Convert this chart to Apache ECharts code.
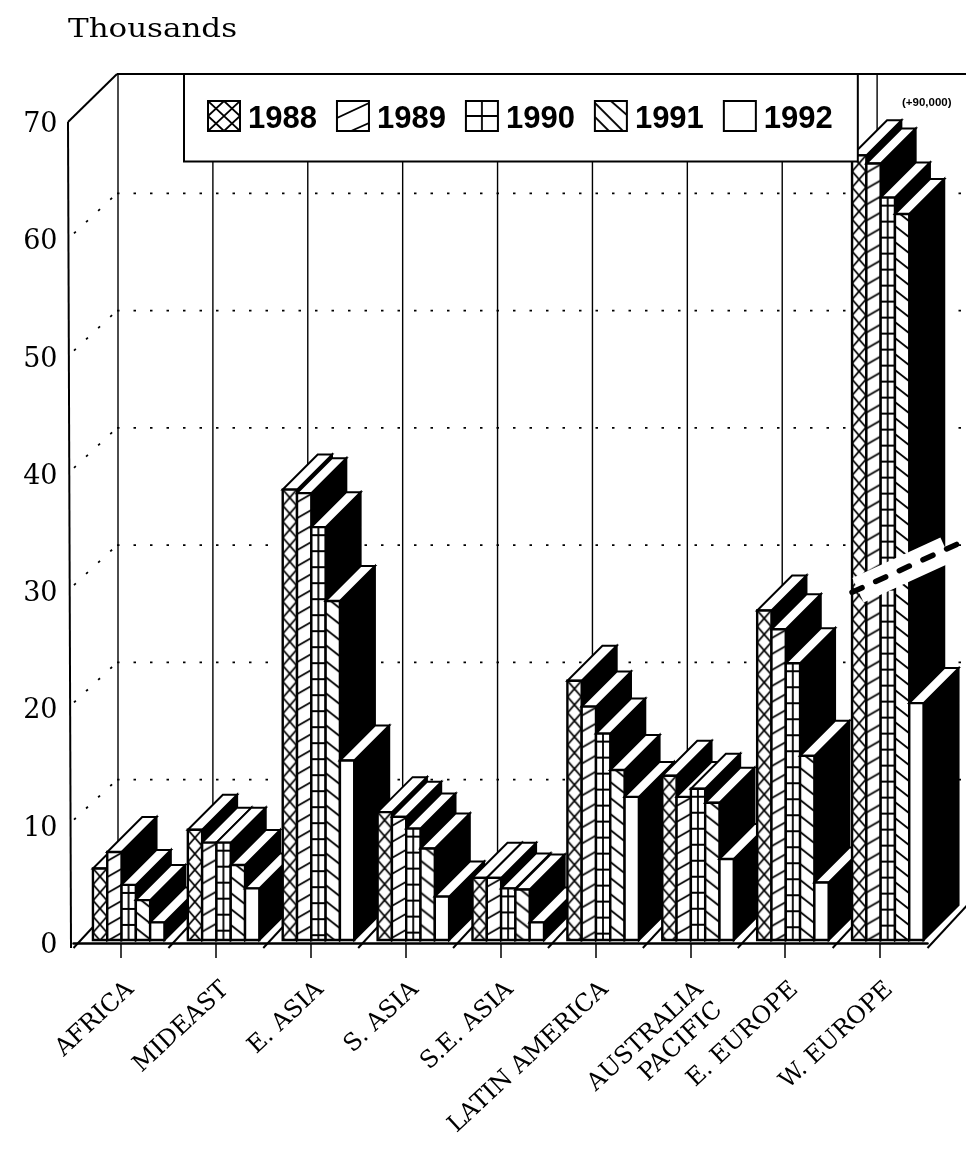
<!DOCTYPE html>
<html>
<head>
<meta charset="utf-8">
<style>
  html, body { margin: 0; padding: 0; background: #fff; }
  #chart { width: 966px; height: 1150px; }
</style>
<script src="https://cdn.jsdelivr.net/npm/echarts@6/dist/echarts.min.js"></script>
</head>
<body>
<div id="chart"></div>
<script>
const categories = ['AFRICA', 'MIDEAST', 'E. ASIA', 'S. ASIA', 'S.E. ASIA', 'LATIN AMERICA', 'AUSTRALIA\nPACIFIC', 'E. EUROPE', 'W. EUROPE'];
const years = ['1988', '1989', '1990', '1991', '1992'];
const values1988 = [6.1, 9.4, 38.4, 10.9, 5.3, 22.1, 14.0, 28.1, 66.9];
const values1989 = [7.5, 8.3, 38.1, 10.5, 5.3, 19.9, 12.2, 26.5, 66.2];
const values1990 = [4.7, 8.3, 35.2, 9.5, 4.4, 17.6, 12.9, 23.6, 63.3];
const values1991 = [3.4, 6.4, 28.9, 7.8, 4.3, 14.5, 11.7, 15.7, 61.9];
const values1992 = [1.5, 4.4, 15.3, 3.7, 1.5, 12.2, 6.9, 4.9, 20.2];
const yearValues = [values1988, values1989, values1990, values1991, values1992];
const yTicks = [10, 20, 30, 40, 50, 60];

const BAR_W = 14.3;
const GROUP_OFFSET = -28;
const BAR_BASE_LIFT = 3;
const BAR_DX = 35;
const BAR_DY = -35;
const WALL_DX = 49;
const WALL_DY = -48;
const DOT_DY = -46;
const FRONT_LEFT = 68;
const FLOOR_DROP = 5;

// 柱子正面的填充纹理
function makeTile(w, h, draw) {
  const c = document.createElement('canvas');
  c.width = w;
  c.height = h;
  const ctx = c.getContext('2d');
  ctx.fillStyle = '#fff';
  ctx.fillRect(0, 0, w, h);
  ctx.strokeStyle = '#000';
  ctx.lineWidth = 1.8;
  draw(ctx);
  return c;
}

function drawLines(ctx, lines) {
  ctx.beginPath();
  lines.forEach(l => {
    ctx.moveTo(l[0], l[1]);
    ctx.lineTo(l[2], l[3]);
  });
  ctx.stroke();
}

const barTiles = [
  makeTile(14, 16, ctx => drawLines(ctx, [[0, 0, 14, 16], [14, 0, 0, 16]])),
  makeTile(14, 16, ctx => drawLines(ctx, [[0, 9, 14, 1], [0, 25, 14, 17], [0, -7, 14, -15]])),
  makeTile(14, 16, ctx => drawLines(ctx, [[0, 8, 14, 8], [7, 0, 7, 16]])),
  makeTile(14, 16, ctx => drawLines(ctx, [[0, -4, 14, 7], [0, 12, 14, 23], [0, -20, 14, -9]])),
  makeTile(14, 16, () => {})
];

const legendTiles = [
  makeTile(32, 30, ctx => drawLines(ctx, [[0, 0, 32, 30], [32, 0, 0, 30], [16, 0, 32, 15], [32, 15, 16, 30], [16, 30, 0, 15], [0, 15, 16, 0]])),
  makeTile(32, 30, ctx => drawLines(ctx, [[0, 17, 32, 2], [14, 30, 32, 22]])),
  makeTile(32, 30, ctx => drawLines(ctx, [[0, 15, 32, 15], [16, 0, 16, 30]])),
  makeTile(32, 30, ctx => drawLines(ctx, [[0, 2, 28, 30], [16, 0, 32, 14], [0, 16, 14, 30]])),
  makeTile(32, 30, () => {})
];

function renderBar(yearIdx) {
  return function (params, api) {
    const cat = api.value(0);
    const base = api.coord([cat, 0]);
    const top = api.coord([cat, api.value(1)]);
    const x0 = base[0] + GROUP_OFFSET + yearIdx * BAR_W;
    const x1 = x0 + BAR_W;
    const y0 = base[1] - BAR_BASE_LIFT;
    const y1 = top[1] - BAR_BASE_LIFT;
    const z = (cat * 5 + yearIdx) * 3;
    return {
      type: 'group',
      children: [
        {
          type: 'polygon',
          z2: z,
          shape: { points: [[x1, y1], [x1 + BAR_DX, y1 + BAR_DY], [x1 + BAR_DX, y0 + BAR_DY], [x1, y0]] },
          style: { fill: '#000', stroke: '#000', lineWidth: 2 }
        },
        {
          type: 'polygon',
          z2: z + 1,
          shape: { points: [[x0, y1], [x1, y1], [x1 + BAR_DX, y1 + BAR_DY], [x0 + BAR_DX, y1 + BAR_DY]] },
          style: { fill: '#fff', stroke: '#000', lineWidth: 2 }
        },
        {
          type: 'rect',
          z2: z + 2,
          shape: { x: x0, y: y1, width: BAR_W, height: y0 - y1 },
          style: {
            fill: { image: barTiles[yearIdx], repeat: 'repeat', x: x0, y: y1 },
            stroke: '#000',
            lineWidth: 2.4
          }
        }
      ]
    };
  };
}

function line(x1, y1, x2, y2, style) {
  return { type: 'line', shape: { x1, y1, x2, y2 }, style: Object.assign({ stroke: '#000', fill: null }, style) };
}

// 背景：左墙、后墙、虚线网格、地板
function renderFrame(params, api) {
  const sys = params.coordSys;
  const band = sys.width / categories.length;
  const y0 = api.coord([0, 0])[1];
  const y70 = api.coord([0, 70])[1];
  const right = 966;
  const backX = FRONT_LEFT + WALL_DX;
  const topY = y70 + WALL_DY;
  const floorY = y0 + FLOOR_DROP;
  const children = [];
  const dotted = { lineWidth: 1.8, lineDash: [2.5, 14] };

  children.push(line(FRONT_LEFT, y70, FRONT_LEFT + 3, floorY, { lineWidth: 2 }));
  children.push(line(FRONT_LEFT, y70, backX, topY, { lineWidth: 2 }));
  children.push(line(backX, topY, right, topY, { lineWidth: 2 }));

  yTicks.forEach(v => {
    const y = api.coord([0, v])[1];
    children.push(line(FRONT_LEFT + 6, y - 6, backX, y + DOT_DY, dotted));
    children.push(line(backX, y + DOT_DY, right, y + DOT_DY, dotted));
  });

  for (let i = 0; i <= categories.length; i++) {
    const fx = sys.x + band * i;
    const bx = fx + 44.5;
    children.push(line(bx, topY, bx, floorY + WALL_DY, { lineWidth: 1.4 }));
    children.push(line(fx, floorY, fx + 44.5, floorY + WALL_DY, { lineWidth: 2 }));
  }
  return { type: 'group', children };
}

// 西欧柱子上的断轴标记
function renderBreak(params, api) {
  const cat = categories.length - 1;
  const cx = api.coord([cat, 0])[0];
  const left = [cx - 28, api.coord([cat, 29.9])[1]];
  const right = [cx + 82, api.coord([cat, 34.2])[1]];
  const children = [
    line(left[0] + 6, left[1] - 2, right[0] - 16, right[1] + 8, { stroke: '#fff', lineWidth: 27 }),
    line(left[0], left[1], right[0], right[1], { lineWidth: 5.5, lineDash: [11, 15], lineCap: 'round' })
  ];
  children.forEach(c => { c.z2 = 1000; });
  return { type: 'group', children };
}

const barSeries = yearValues.map((vals, yearIdx) => ({
  name: years[yearIdx],
  type: 'custom',
  z: 2,
  renderItem: renderBar(yearIdx),
  encode: { x: 0, y: 1 },
  data: vals.map((v, i) => [i, v]),
  animation: false
}));

const chart = echarts.init(document.getElementById('chart'), null, { renderer: 'canvas' });

chart.setOption({
  animation: false,
  backgroundColor: '#fff',
  grid: { left: 73.5, width: 854, top: 122, bottom: 207, containLabel: false },
  legend: {
    left: 184,
    top: 74,
    selectedMode: false,
    orient: 'horizontal',
    backgroundColor: '#fff',
    borderColor: '#000',
    borderWidth: 2,
    padding: [26, 25, 27, 23],
    itemWidth: 32,
    itemHeight: 30,
    itemGap: 19,
    icon: 'rect',
    formatter: '{t|{name}}',
    textStyle: {
      fontFamily: '"Liberation Sans", Arial, sans-serif',
      fontWeight: 'bold',
      fontSize: 31,
      color: '#000',
      rich: {
        t: {
          fontFamily: '"Liberation Sans", Arial, sans-serif',
          fontWeight: 'bold',
          fontSize: 31,
          color: '#000',
          padding: [6, 0, 0, 3]
        }
      }
    },
    data: years.map((y, i) => ({
      name: y,
      icon: 'rect',
      itemStyle: {
        color: { image: legendTiles[i], repeat: 'no-repeat' },
        borderColor: '#000',
        borderWidth: 2
      }
    }))
  },
  xAxis: {
    type: 'category',
    data: categories,
    offset: FLOOR_DROP,
    axisLine: { show: true, lineStyle: { color: '#000', width: 2.5 } },
    axisTick: { show: true, alignWithLabel: true, length: 15, lineStyle: { color: '#000', width: 1.5 } },
    axisLabel: {
      interval: 0,
      rotate: 43,
      margin: 28,
      hideOverlap: false,
      color: '#000',
      fontFamily: '"DejaVu Serif", serif',
      fontSize: 24,
      lineHeight: 28,
      verticalAlign: 'top'
    },
    splitLine: { show: false }
  },
  yAxis: {
    type: 'value',
    min: 0,
    max: 70,
    interval: 10,
    axisLine: { show: false },
    axisTick: { show: false },
    splitLine: { show: false },
    axisLabel: {
      margin: 16,
      color: '#000',
      fontFamily: '"DejaVu Serif", serif',
      fontSize: 27,
      verticalAlign: 'top',
      lineHeight: 6
    }
  },
  graphic: [
    {
      type: 'text',
      x: 68,
      y: 17,
      scaleX: 1.19,
      style: { text: 'Thousands', fill: '#000', font: '26px "DejaVu Serif", serif' }
    },
    {
      type: 'text',
      x: 902,
      y: 97,
      style: { text: '(+90,000)', fill: '#000', font: 'bold 11.5px "Liberation Sans", Arial, sans-serif' }
    }
  ],
  series: [
    {
      type: 'custom',
      z: 1,
      silent: true,
      renderItem: renderFrame,
      encode: { x: 0, y: 1 },
      data: [[0, 0]],
      animation: false
    }
  ].concat(barSeries, [
    {
      type: 'custom',
      z: 3,
      silent: true,
      renderItem: renderBreak,
      encode: { x: 0, y: 1 },
      data: [[0, 0]],
      animation: false
    }
  ])
});
</script>
</body>
</html>
